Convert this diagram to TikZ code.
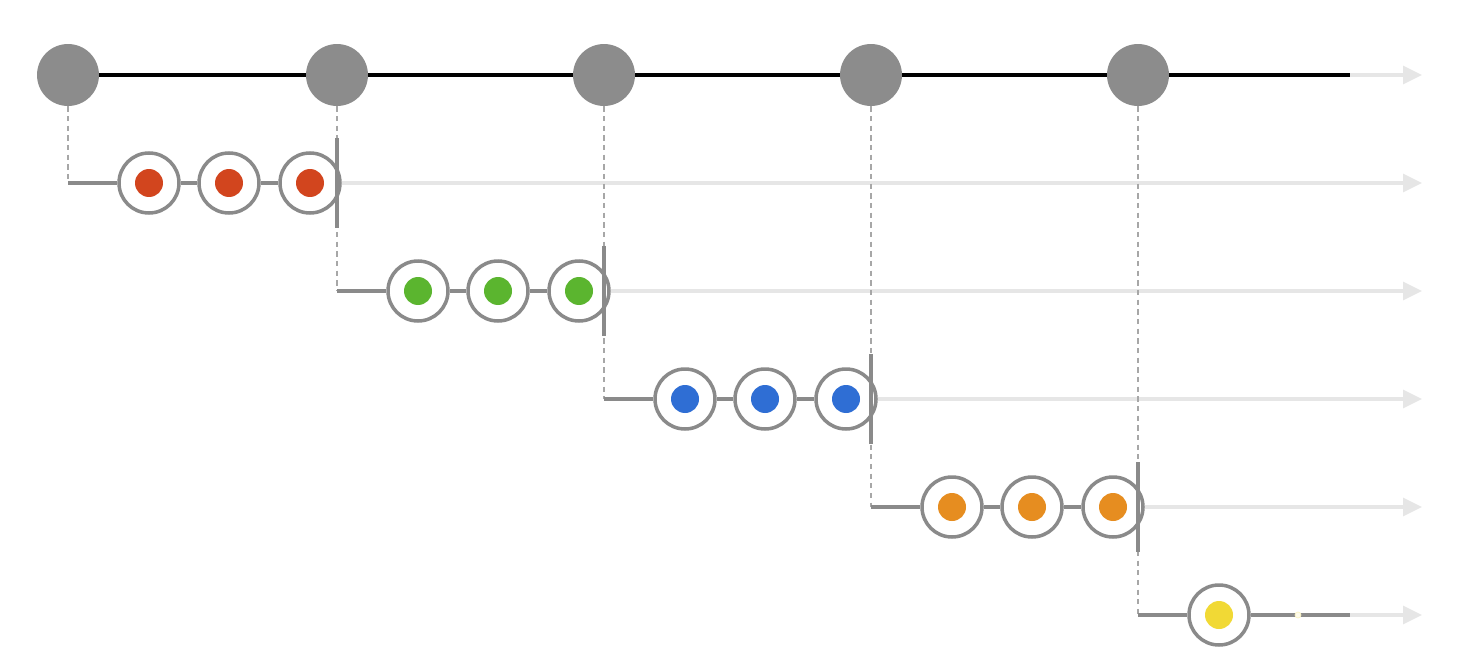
\documentclass[tikz,border=0pt]{standalone}
\usetikzlibrary{arrows.meta}

\definecolor{hubgray}{HTML}{8C8C8C}
\definecolor{linkgray}{HTML}{8A8A8A}
\definecolor{fadegray}{HTML}{E6E6E6}
\definecolor{redball}{HTML}{D2451E}
\definecolor{greenball}{HTML}{5BB52F}
\definecolor{blueball}{HTML}{2F6ED4}
\definecolor{orangeball}{HTML}{E68D20}
\definecolor{yellowball}{HTML}{F1D935}

\tikzset{
  hub/.style={circle,fill=hubgray,minimum size=1.24cm,inner sep=0pt},
  marble/.style={circle,draw=linkgray,line width=2pt,fill=white,
    minimum size=1.2cm,inner sep=0pt,
    path picture={\fill[#1] (path picture bounding box.center) circle (0.28cm);}},
  link/.style={draw=linkgray,line width=1.9pt},
  fade/.style={draw=fadegray,line width=1.8pt,-{Triangle[length=0.38cm,width=0.36cm]}},
  dotline/.style={draw=linkgray!75,line width=1pt,dash pattern=on 3pt off 2.5pt}
}

\begin{document}
\begin{tikzpicture}[x=0.02cm,y=-0.02cm]
  \useasboundingbox (0,0) rectangle (1464,666);
  % top line with the hubs
  \foreach \x [count=\i] in {68,337,604,871,1138}
    \node[hub] (t\i) at (\x,75) {};
  \coordinate (e0) at (1350,75);
  \coordinate (a0) at (1422,75);
  \draw[line width=2pt] (t1) -- (t2) -- (t3) -- (t4) -- (t5) -- (e0);
  \draw[fade] (e0) -- (a0);

  % rows of marbles
  \foreach \i/\xa/\xb/\c in {1/68/337/redball,2/337/604/greenball,3/604/871/blueball,4/871/1138/orangeball} {
    \pgfmathsetmacro\y{75+108*\i}
    \coordinate (c\i) at (\xa,\y);
    \coordinate (b\i) at (\xb,{\y-45});
    \coordinate (d\i) at (\xb,{\y+45});
    \coordinate (a\i) at (1422,\y);
    \node[marble=\c] (m\i1) at ({\xa+81},\y) {};
    \node[marble=\c] (m\i2) at ({\xa+161},\y) {};
    \node[marble=\c] (m\i3) at ({\xa+242},\y) {};
    \draw[dotline] (t\i) -- (c\i);
    \draw[link] (c\i) -- (m\i1) -- (m\i2) -- (m\i3);
    \draw[fade] (m\i3) -- (a\i);
  }

  % last row
  \coordinate (c5) at (1138,615);
  \coordinate (e5) at (1350,615);
  \coordinate (a5) at (1422,615);
  \node[marble=yellowball] (m51) at (1219,615) {};
  \draw[dotline] (t5) -- (c5);
  \draw[link] (c5) -- (m51) -- (e5);
  \draw[fade] (e5) -- (a5);
  \node[circle,draw=yellowball!30,fill=yellowball!10,line width=0.4pt,
    minimum size=0.12cm,inner sep=0pt] (k5) at (1298,615) {};

  % end bars
  \foreach \i in {1,...,4}
    \draw[link] (b\i) -- (d\i);
\end{tikzpicture}
\end{document}
